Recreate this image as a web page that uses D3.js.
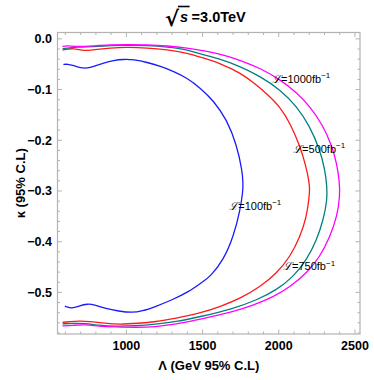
<!DOCTYPE html>
<html><head><meta charset="utf-8">
<script src="https://cdn.jsdelivr.net/npm/d3@7"></script>
<style>body{margin:0;background:#fff}svg{display:block}</style>
</head><body>
<script>
// ---- data ----
const blueX = [587,612,655,699,743,786,851,917,982,1048,1136,1223,1310,1398,1485,1572,1659,1725,1760,1766,1764,1747,1703,1637,1550,1496,1408,1299,1190,1103,1037,949,862,797,743,688,644,596];
const blueY = [-0.0508,-0.0494,-0.0528,-0.0573,-0.0581,-0.0542,-0.0474,-0.0423,-0.0403,-0.0409,-0.0462,-0.0542,-0.0640,-0.0771,-0.0968,-0.122,-0.159,-0.210,-0.260,-0.285,-0.302,-0.337,-0.390,-0.436,-0.469,-0.480,-0.499,-0.515,-0.528,-0.537,-0.540,-0.537,-0.532,-0.525,-0.522,-0.527,-0.532,-0.527];
const redX = [581,655,720,786,895,1005,1136,1267,1398,1485,1616,1747,1834,1921,2009,2074,2140,2179,2198,2203,2200,2183,2140,2074,1987,1878,1747,1616,1485,1321,1190,1081,950,862,753,688,622,581];
const redY = [-0.0221,-0.0178,-0.0245,-0.0211,-0.0178,-0.0166,-0.0178,-0.0211,-0.0277,-0.0360,-0.0480,-0.0672,-0.0860,-0.108,-0.134,-0.166,-0.212,-0.252,-0.280,-0.296,-0.310,-0.351,-0.390,-0.430,-0.462,-0.489,-0.512,-0.528,-0.541,-0.551,-0.558,-0.561,-0.563,-0.561,-0.557,-0.556,-0.558,-0.559];
const tealX = [581,677,786,895,1005,1136,1267,1398,1485,1616,1747,1878,2009,2118,2205,2270,2303,2316,2318,2292,2249,2183,2096,1987,1856,1703,1485,1321,1190,1059,928,819,731,644,581];
const tealY = [-0.0192,-0.0158,-0.0158,-0.0132,-0.0126,-0.0132,-0.0158,-0.0211,-0.0300,-0.0400,-0.0542,-0.0739,-0.100,-0.133,-0.173,-0.219,-0.258,-0.290,-0.318,-0.357,-0.397,-0.436,-0.469,-0.495,-0.515,-0.532,-0.548,-0.558,-0.563,-0.566,-0.567,-0.565,-0.561,-0.561,-0.562];
const magX = [581,612,677,786,895,1005,1136,1267,1398,1528,1659,1790,1878,2009,2118,2205,2292,2347,2380,2398,2402,2382,2336,2270,2183,2074,1965,1834,1703,1485,1321,1190,1059,928,819,731,644,581];
const magY = [-0.0152,-0.0132,-0.0158,-0.0138,-0.0119,-0.0113,-0.0119,-0.0138,-0.0178,-0.0245,-0.0330,-0.0474,-0.0580,-0.0804,-0.106,-0.133,-0.172,-0.210,-0.245,-0.280,-0.310,-0.351,-0.390,-0.430,-0.462,-0.489,-0.509,-0.525,-0.538,-0.553,-0.563,-0.568,-0.569,-0.568,-0.567,-0.563,-0.565,-0.566];

const labelText = ["1000","500","100","750"];
const labelX = [1956,2094,1675,2028];
const labelY = [-0.0864,-0.225,-0.337,-0.456];

const xMajor = [1000,1500,2000,2500];
const yMajor = [0.0,-0.1,-0.2,-0.3,-0.4,-0.5];
const xMinorStep = 100, yMinorStep = 0.02;

// ---- layout ----
const W=374,H=380;
const L=57.5,R=360,T=32.5,B=334;
const x = d3.scaleLinear().domain([548,2533]).range([L,R]);
const y = d3.scaleLinear().domain([-0.582,0.0125]).range([B,T]);

const svg = d3.select("body").append("svg").attr("width",W).attr("height",H);
svg.append("defs").append("clipPath").attr("id","clip")
  .append("rect").attr("x",L).attr("y",T).attr("width",R-L).attr("height",B-T);

const series = [
  {xs:blueX, ys:blueY, c:"#1a1aff"},
  {xs:redX, ys:redY, c:"#ff1a1a"},
  {xs:tealX, ys:tealY, c:"#008080"},
  {xs:magX, ys:magY, c:"#ff00ff"}
];
const line = d3.line().x(d=>x(d[0])).y(d=>y(d[1])).curve(d3.curveBasis);
const g = svg.append("g").attr("clip-path","url(#clip)");
series.forEach(s=>{
  g.append("path").attr("d", line(s.xs.map((v,i)=>[v,s.ys[i]])))
   .attr("fill","none").attr("stroke",s.c).attr("stroke-width",1.3);
});

// frame
const fc="#b3b3b3";
svg.append("rect").attr("x",L).attr("y",T).attr("width",R-L).attr("height",B-T)
  .attr("fill","none").attr("stroke",fc).attr("stroke-width",1.2);

// ticks
const xMin = d3.range(600,2501,xMinorStep).filter(v=>!xMajor.includes(v));
const yMin = d3.range(0,-0.581,-yMinorStep).map(v=>+v.toFixed(2)).filter(v=>!yMajor.some(m=>Math.abs(m-v)<1e-6));
const tk = svg.append("g").attr("stroke",fc).attr("stroke-width",1);
function vt(v,len){
  tk.append("line").attr("x1",x(v)).attr("x2",x(v)).attr("y1",B).attr("y2",B-len);
  tk.append("line").attr("x1",x(v)).attr("x2",x(v)).attr("y1",T).attr("y2",T+len);
}
function ht(v,len){
  tk.append("line").attr("y1",y(v)).attr("y2",y(v)).attr("x1",L).attr("x2",L+len);
  tk.append("line").attr("y1",y(v)).attr("y2",y(v)).attr("x1",R).attr("x2",R-len);
}
xMajor.forEach(v=>vt(v,4.5)); xMin.forEach(v=>vt(v,2.5));
yMajor.forEach(v=>ht(v,4.5)); yMin.forEach(v=>ht(v,2.5));

const font="'Liberation Sans',Arial,sans-serif";
// tick labels
svg.append("g").selectAll("text").data(xMajor).join("text")
  .attr("x",d=>x(d)).attr("y",350).attr("text-anchor","middle")
  .attr("font-family",font).attr("font-weight","bold").attr("font-size",12.5)
  .text(d=>d);
svg.append("g").selectAll("text").data(yMajor).join("text")
  .attr("x",52).attr("y",d=>y(d)+4.3).attr("text-anchor","end")
  .attr("font-family",font).attr("font-weight","bold").attr("font-size",12.5)
  .text(d=>d===0?"0.0":"\u2212"+Math.abs(d).toFixed(1));

// axis titles
svg.append("text").attr("x",(L+R)/2).attr("y",370).attr("text-anchor","middle")
  .attr("font-family",font).attr("font-weight","bold").attr("font-size",13)
  .text("\u039B (GeV 95% C.L)");
svg.append("text").attr("transform",`translate(25,${(T+B)/2}) rotate(-90)`).attr("text-anchor","middle")
  .attr("font-family",font).attr("font-weight","bold").attr("font-size",13)
  .text("\u03BA (95% C.L)");

// title
const tg = svg.append("g");
const x0 = 165;
const rad = tg.append("text").attr("x",x0).attr("y",26).attr("font-family","'DejaVu Sans',sans-serif")
  .attr("font-weight","bold").attr("font-size",21).text("\u221A");
const rw = rad.node().getComputedTextLength();
const sT = tg.append("text").attr("x",x0+rw+1).attr("y",22).attr("font-family",font)
  .attr("font-weight","bold").attr("font-style","italic").attr("font-size",14.5).text("s");
const sw = sT.node().getComputedTextLength();
tg.append("line").attr("x1",x0+rw-1).attr("x2",x0+rw+sw+2.5).attr("y1",6.5).attr("y2",6.5)
  .attr("stroke","#000").attr("stroke-width",1.6);
tg.append("text").attr("x",x0+rw+sw+4.5).attr("y",22).attr("font-family",font)
  .attr("font-weight","bold").attr("font-size",14.5).text("=3.0TeV");

// contour labels
labelText.forEach((t,i)=>{
  const tx = svg.append("text").attr("x",x(labelX[i])).attr("y",y(labelY[i]))
    .attr("font-family",font).attr("font-size",11).attr("fill","#000");
  tx.append("tspan").attr("font-family","'DejaVu Serif',serif").attr("font-style","italic").text("\u2112");
  tx.append("tspan").text("="+t+"fb");
  tx.append("tspan").attr("dy",-4.5).attr("font-size",8).text("\u22121");
});
</script>
</body></html>
